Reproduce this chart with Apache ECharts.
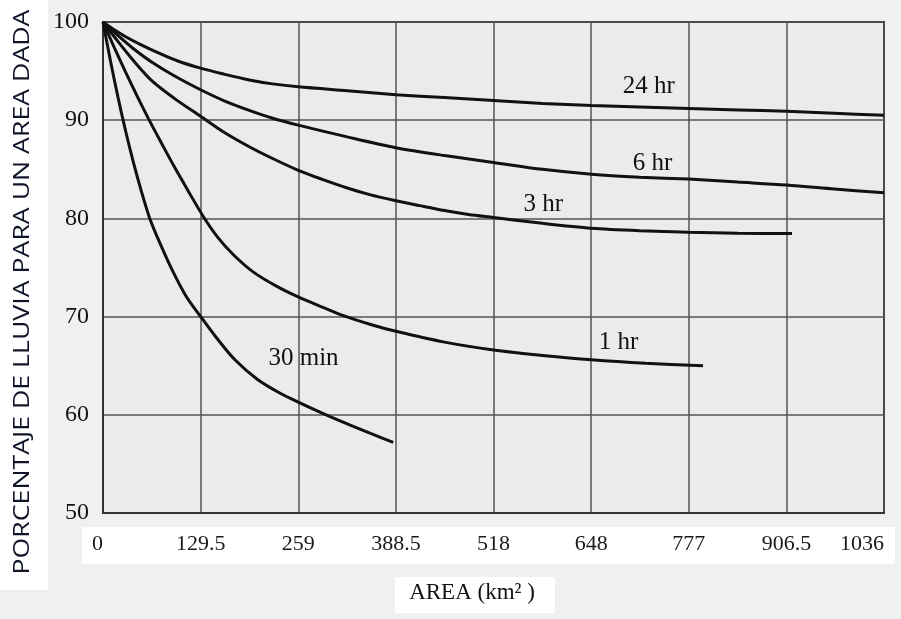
<!DOCTYPE html>
<html>
<head>
<meta charset="utf-8">
<script src="https://cdn.jsdelivr.net/npm/echarts@6/dist/echarts.min.js"></script>
<style>
html,body{margin:0;padding:0;background:#f0f0f0;}
#c{width:901px;height:619px;}
</style>
</head>
<body>
<div id="c"></div>
<script>
// Area (km²) tick labels
const xTickLabels = ['0', '129.5', '259', '388.5', '518', '648', '777', '906.5', '1036'];
const yTicks = [50, 60, 70, 80, 90, 100];

// Curves: [area km², percentage]
const s24hr = [[0,100],[15,99.2],[30,98.5],[50,97.7],[75,96.8],[100,96.0],[129.5,95.3],[160,94.7],[194,94.1],[225,93.7],[259,93.4],[324,93.0],[388.5,92.6],[453,92.3],[518,92.0],[583,91.7],[648,91.5],[712,91.35],[777,91.2],[842,91.05],[906.5,90.9],[970,90.7],[1036,90.5]];
const s6hr  = [[0,100],[20,98.6],[40,97.3],[65,95.9],[95,94.5],[129.5,93.1],[160,92.0],[194,91.0],[225,90.2],[259,89.5],[324,88.3],[388.5,87.2],[453,86.4],[518,85.7],[583,85.0],[648,84.5],[712,84.2],[777,84.0],[842,83.7],[906.5,83.4],[970,83.0],[1036,82.6]];
const s3hr  = [[0,100],[20,98.0],[40,96.1],[65,94.0],[95,92.2],[129.5,90.4],[160,88.8],[194,87.3],[225,86.1],[259,84.9],[290,84.0],[324,83.1],[355,82.4],[388.5,81.8],[420,81.3],[453,80.8],[485,80.4],[518,80.1],[583,79.5],[648,79.0],[712,78.75],[777,78.6],[842,78.5],[914,78.45]];
const s1hr  = [[0,100],[15,97.4],[30,94.9],[45,92.5],[62,89.9],[78,87.6],[95,85.2],[113,82.8],[133,80.2],[152,78.1],[173,76.3],[200,74.5],[230,73.1],[259,72.0],[290,71.0],[319,70.1],[355,69.2],[388.5,68.5],[453,67.4],[518,66.6],[583,66.05],[648,65.6],[720,65.25],[796,65.0]];
const s30m  = [[0,100],[10,96.0],[20,92.3],[30,88.9],[40,85.8],[50,83.0],[62,80.0],[76,77.4],[92,74.7],[110,72.1],[129.5,70.0],[150,67.9],[175,65.6],[205,63.6],[235,62.2],[259,61.3],[290,60.2],[320,59.2],[355,58.1],[385,57.2]];

const seriesNames = ['24 hr','6 hr','3 hr','1 hr','30 min'];
const seriesData = [s24hr, s6hr, s3hr, s1hr, s30m];
// label anchor points in data coordinates
const labelAt = [[724,93.4],[729,85.6],[584,81.4],[684,67.4],[266,65.7]];

const chart = echarts.init(document.getElementById('c'));
const serif = '"Liberation Serif","DejaVu Serif",serif';
chart.setOption({
  backgroundColor: '#f0f0f0',
  animation: false,
  graphic: [
    {type:'rect', left:0, top:0, shape:{width:48, height:590}, style:{fill:'#ffffff'}, z:-1},
    {type:'rect', left:82, top:527, shape:{width:813, height:37}, style:{fill:'#ffffff'}, z:-1},
    {type:'rect', left:395, top:577, shape:{width:160, height:36}, style:{fill:'#ffffff'}, z:-1},
    {type:'text', x:23, y:292, rotation:Math.PI/2, scaleX:1.27,
      style:{text:'PORCENTAJE DE LLUVIA PARA UN AREA DADA', fontFamily:'"Open Sans","Noto Sans",sans-serif',
        fontSize:21, fill:'#10152a', align:'center', verticalAlign:'middle'}},
    {type:'text', x:472, y:593,
      style:{text:'AREA (km² )', fontFamily:serif, fontSize:23, fill:'#111', align:'center', verticalAlign:'middle'}}
  ],
  grid: {left:103, right:17, top:22, bottom:106, outerBoundsMode:'none', containLabel:false,
    show:true, backgroundColor:'#ebebeb', borderColor:'#333', borderWidth:2},
  xAxis: {
    type:'value', min:0, max:1036, interval:129.5,
    axisLine:{show:true, lineStyle:{color:'#333', width:2}},
    axisTick:{show:false},
    axisLabel:{fontFamily:serif, fontSize:22, color:'#1a1a1a', margin:20, alignMinLabel:'right', alignMaxLabel:'right',
      formatter: v => xTickLabels[Math.round(v / 129.5)] || ''},
    splitLine:{show:true, lineStyle:{color:'#555', width:1.5}}
  },
  yAxis: {
    type:'value', min:yTicks[0], max:yTicks[yTicks.length-1], interval:10,
    axisLine:{show:true, lineStyle:{color:'#333', width:2}},
    axisTick:{show:false},
    axisLabel:{fontFamily:serif, fontSize:24, color:'#111', margin:14},
    splitLine:{show:true, lineStyle:{color:'#555', width:1.5}}
  },
  series: seriesData.map((d,i) => ({
    type:'line', name:seriesNames[i], data:d, smooth:0.3, showSymbol:false,
    lineStyle:{color:'#111', width:3},
    markPoint:{
      symbol:'circle', symbolSize:0,
      data:[{coord:labelAt[i], value:seriesNames[i]}],
      label:{show:true, formatter:seriesNames[i], fontFamily:serif, fontSize:25, color:'#111', position:'inside'}
    }
  }))
});
</script>
</body>
</html>
